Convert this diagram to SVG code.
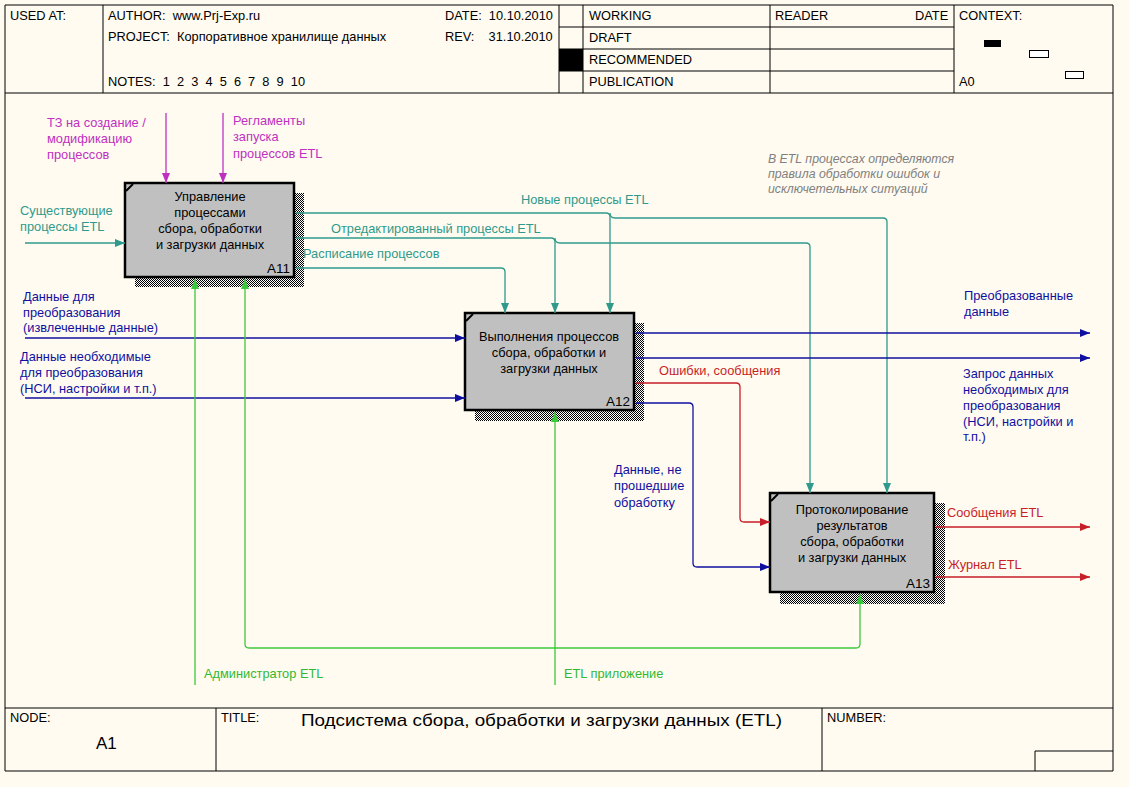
<svg xmlns="http://www.w3.org/2000/svg" width="1129" height="787" viewBox="0 0 1129 787">
<defs>
<style>
text{font-family:"Liberation Sans",Arial,sans-serif;font-size:12.8px;}
.hdr{fill:#000;}
.frame{stroke:#000;stroke-width:1;fill:none;}
.box{fill:#c0c0c0;stroke:#000;stroke-width:2.5;}
.shadow{fill:url(#hatch);}
.bt{fill:#000;text-anchor:middle;}
.id{fill:#000;text-anchor:end;font-size:13.5px;}
.c{fill:none;stroke-width:1.3;}
.teal{stroke:#2f9a8c;}
.blue{stroke:#1010a0;}
.red{stroke:#c81e28;}
.green{stroke:#3cc83c;}
.mag{stroke:#c030c0;}
.tteal{fill:#2f9a8c;}
.tblue{fill:#1010a0;}
.tred{fill:#c81e28;}
.tgreen{fill:#33b833;}
.tmag{fill:#c030c0;}
.note{fill:#808080;font-style:italic;font-size:12.3px;}
</style>
<pattern id="hatch" width="2" height="2" patternUnits="userSpaceOnUse"><rect width="2" height="2" fill="#fff"/><rect width="1" height="1" fill="#000"/><rect x="1" y="1" width="1" height="1" fill="#000"/></pattern>
<marker id="aTeal" markerUnits="userSpaceOnUse" markerWidth="10" markerHeight="8" refX="10" refY="4" orient="auto"><path d="M0,0 L10,4 L0,8 z" fill="#2f9a8c"/></marker>
<marker id="aBlue" markerUnits="userSpaceOnUse" markerWidth="10" markerHeight="8" refX="10" refY="4" orient="auto"><path d="M0,0 L10,4 L0,8 z" fill="#1010a0"/></marker>
<marker id="aRed" markerUnits="userSpaceOnUse" markerWidth="10" markerHeight="8" refX="10" refY="4" orient="auto"><path d="M0,0 L10,4 L0,8 z" fill="#c81e28"/></marker>
<marker id="aGreen" markerUnits="userSpaceOnUse" markerWidth="10" markerHeight="8" refX="10" refY="4" orient="auto"><path d="M0,0 L10,4 L0,8 z" fill="#3cc83c"/></marker>
<marker id="aMag" markerUnits="userSpaceOnUse" markerWidth="10" markerHeight="8" refX="10" refY="4" orient="auto"><path d="M0,0 L10,4 L0,8 z" fill="#c030c0"/></marker>
</defs>
<rect width="1129" height="787" fill="#fffbf0"/>
<g id="frame">
<path class="frame" d="M5,5 H1113 V771 H5 Z M5,93 H1113 M103,5 V93 M559,5 V93 M583,5 V93 M770,5 V93 M954,5 V93 M559,27 H954 M559,49 H954 M559,71 H954 M5,708 H1113 M216,708 V771 M822,708 V771 M1035,751 H1113 M1035,751 V771"/>
<rect x="559" y="49" width="24" height="22" fill="#000"/>
<rect x="984" y="40" width="17" height="7" fill="#000"/>
<rect x="1029.5" y="50.5" width="19" height="7" fill="#fff" stroke="#000"/>
<rect x="1065.5" y="71.5" width="18" height="7" fill="#fff" stroke="#000"/>
<text class="hdr" x="10" y="20">USED AT:</text>
<text class="hdr" x="108" y="20" xml:space="preserve">AUTHOR:  www.Prj-Exp.ru</text>
<text class="hdr" x="108" y="41" xml:space="preserve">PROJECT:  Корпоративное хранилище данных</text>
<text class="hdr" x="108" y="86" xml:space="preserve">NOTES:  1  2  3  4  5  6  7  8  9  10</text>
<text class="hdr" x="445" y="20" xml:space="preserve">DATE:  10.10.2010</text>
<text class="hdr" x="445" y="41" xml:space="preserve">REV:    31.10.2010</text>
<text class="hdr" x="589" y="20">WORKING</text>
<text class="hdr" x="589" y="42">DRAFT</text>
<text class="hdr" x="589" y="64">RECOMMENDED</text>
<text class="hdr" x="589" y="86">PUBLICATION</text>
<text class="hdr" x="775" y="20">READER</text>
<text class="hdr" x="915" y="20">DATE</text>
<text class="hdr" x="959" y="20">CONTEXT:</text>
<text class="hdr" x="959" y="86">A0</text>
<text class="hdr" x="10" y="722">NODE:</text>
<text class="hdr" x="96" y="749" style="font-size:17px">A1</text>
<text class="hdr" x="221" y="722">TITLE:</text>
<text class="hdr" x="301" y="726" style="font-size:17px" textLength="481" lengthAdjust="spacingAndGlyphs">Подсистема сбора, обработки и загрузки данных (ETL)</text>
<text class="hdr" x="827" y="722">NUMBER:</text>
</g>
<g id="node-A11">
<rect class="shadow" x="294" y="193" width="10" height="94"/>
<rect class="shadow" x="135" y="277" width="169" height="10"/>
<rect class="box" x="125" y="183" width="169" height="94"/>
<path d="M126,191 L133,184" stroke="#000" stroke-width="2"/>
<text class="bt" x="210" y="201">Управление</text>
<text class="bt" x="210" y="217">процессами</text>
<text class="bt" x="210" y="233">сбора, обработки</text>
<text class="bt" x="210" y="249">и загрузки данных</text>
<text class="id" x="290" y="273">A11</text>
</g>
<g id="node-A12">
<rect class="shadow" x="634" y="323" width="10" height="98"/>
<rect class="shadow" x="475" y="410" width="169" height="11"/>
<rect class="box" x="465" y="313" width="169" height="97"/>
<path d="M466,321 L473,314" stroke="#000" stroke-width="2"/>
<text class="bt" x="549" y="341">Выполнения процессов</text>
<text class="bt" x="549" y="357">сбора, обработки и</text>
<text class="bt" x="549" y="373">загрузки данных</text>
<text class="id" x="630" y="406">A12</text>
</g>
<g id="node-A13">
<rect class="shadow" x="934" y="503" width="11" height="101"/>
<rect class="shadow" x="780" y="592" width="165" height="12"/>
<rect class="box" x="770" y="493" width="164" height="99"/>
<path d="M771,501 L778,494" stroke="#000" stroke-width="2"/>
<text class="bt" x="852" y="514">Протоколирование</text>
<text class="bt" x="852" y="530">результатов</text>
<text class="bt" x="852" y="546">сбора, обработки</text>
<text class="bt" x="852" y="562">и загрузки данных</text>
<text class="id" x="930" y="588">A13</text>
</g>
<g id="connectors">
<path class="c mag" d="M166,113 V183" marker-end="url(#aMag)"/>
<path class="c mag" d="M223,113 V183" marker-end="url(#aMag)"/>
<path class="c teal" d="M25,243 H125" marker-end="url(#aTeal)"/>
<path class="c teal" d="M296,213 H606 Q610,213 610,217 V313" marker-end="url(#aTeal)"/>
<path class="c teal" d="M610,213 Q610,218 615,218 H883 Q887,218 887,222 V493" marker-end="url(#aTeal)"/>
<path class="c teal" d="M296,238 H551 Q555,238 555,242 V313" marker-end="url(#aTeal)"/>
<path class="c teal" d="M555,238 Q555,243 560,243 H806 Q810,243 810,247 V493" marker-end="url(#aTeal)"/>
<path class="c teal" d="M296,268 H501 Q505,268 505,272 V313" marker-end="url(#aTeal)"/>
<path class="c blue" d="M25,338 H465" marker-end="url(#aBlue)"/>
<path class="c blue" d="M25,398 H465" marker-end="url(#aBlue)"/>
<path class="c blue" d="M636,333 H1090" marker-end="url(#aBlue)"/>
<path class="c blue" d="M636,358 H1090" marker-end="url(#aBlue)"/>
<path class="c blue" d="M636,403 H689 Q693,403 693,407 V563 Q693,567 697,567 H770" marker-end="url(#aBlue)"/>
<path class="c red" d="M636,383 H736 Q740,383 740,387 V518 Q740,522 744,522 H770" marker-end="url(#aRed)"/>
<path class="c red" d="M936,527 H1090" marker-end="url(#aRed)"/>
<path class="c red" d="M936,577 H1090" marker-end="url(#aRed)"/>
<path class="c green" d="M195,685 V279" marker-end="url(#aGreen)"/>
<path class="c green" d="M555,685 V412" marker-end="url(#aGreen)"/>
<path class="c green" d="M555,648 H856 Q860,648 860,644 V594" marker-end="url(#aGreen)"/>
<path class="c green" d="M555,648 H249 Q245,648 245,644 V279" marker-end="url(#aGreen)"/>
</g>
<g id="labels">
<text class="tmag" x="47" y="127">ТЗ на создание /</text>
<text class="tmag" x="47" y="143">модификацию</text>
<text class="tmag" x="47" y="159">процессов</text>
<text class="tmag" x="233" y="125">Регламенты</text>
<text class="tmag" x="233" y="141">запуска</text>
<text class="tmag" x="233" y="158">процессов ETL</text>
<text class="tteal" x="20" y="215">Существующие</text>
<text class="tteal" x="20" y="231">процессы ETL</text>
<text class="tteal" x="521" y="204">Новые процессы ETL</text>
<text class="tteal" x="331" y="233">Отредактированный процессы ETL</text>
<text class="tteal" x="303" y="258">Расписание процессов</text>
<text class="note" x="768" y="163">В ETL процессах определяются</text>
<text class="note" x="768" y="178">правила обработки ошибок и</text>
<text class="note" x="768" y="193">исключетельных ситуаций</text>
<text class="tblue" x="23" y="301">Данные для</text>
<text class="tblue" x="23" y="317">преобразования</text>
<text class="tblue" x="23" y="332">(извлеченные данные)</text>
<text class="tblue" x="20" y="361">Данные необходимые</text>
<text class="tblue" x="20" y="377">для преобразования</text>
<text class="tblue" x="20" y="393">(НСИ, настройки и т.п.)</text>
<text class="tblue" x="964" y="300">Преобразованные</text>
<text class="tblue" x="964" y="316">данные</text>
<text class="tblue" x="963" y="378">Запрос данных</text>
<text class="tblue" x="963" y="394">необходимых для</text>
<text class="tblue" x="963" y="410">преобразования</text>
<text class="tblue" x="963" y="426">(НСИ, настройки и</text>
<text class="tblue" x="963" y="441">т.п.)</text>
<text class="tblue" x="614" y="474">Данные, не</text>
<text class="tblue" x="614" y="490">прошедшие</text>
<text class="tblue" x="614" y="507">обработку</text>
<text class="tred" x="659" y="375">Ошибки, сообщения</text>
<text class="tred" x="947" y="517">Сообщения ETL</text>
<text class="tred" x="948" y="569">Журнал ETL</text>
<text class="tgreen" x="204" y="678">Администратор ETL</text>
<text class="tgreen" x="564" y="678">ETL приложение</text>
</g>
</svg>
